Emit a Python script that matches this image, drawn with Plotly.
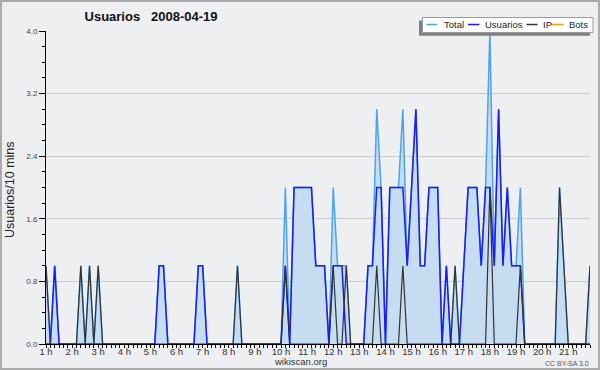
import plotly.graph_objects as go

# ---- data (10-minute bins starting at 1 h) ----
hours = [1 + i / 6 for i in range(126)]

usuarios = [
    0, 0, 1, 0, 0, 0, 0, 0, 0, 0, 0, 0,
    0, 0, 0, 0, 0, 0, 0, 0, 0, 0, 0, 0,
    0, 0, 1, 1, 0, 0, 0, 0, 0, 0, 0, 1,
    1, 0, 0, 0, 0, 0, 0, 0, 0, 0, 0, 0,
    0, 0, 0, 0, 0, 0, 0, 1, 0, 2, 2, 2,
    2, 2, 1, 1, 1, 0, 1, 1, 1, 0, 0, 0,
    0, 0, 1, 1, 2, 2, 0, 2, 2, 2, 2, 1,
    2, 3, 1, 1, 2, 2, 2, 0, 1, 0, 0, 0,
    1, 2, 2, 2, 1, 2, 2, 1, 3, 1, 2, 1,
    1, 1, 0, 0, 0, 0, 0, 0, 0, 0, 0, 0,
    0, 0, 0, 0, 0, 0,
]

ip = [
    1, 0, 0, 0, 0, 0, 0, 0, 1, 0, 1, 0,
    1, 0, 0, 0, 0, 0, 0, 0, 0, 0, 0, 0,
    0, 0, 0, 0, 0, 0, 0, 0, 0, 0, 0, 0,
    0, 0, 0, 0, 0, 0, 0, 0, 1, 0, 0, 0,
    0, 0, 0, 0, 0, 0, 0, 1, 0, 0, 0, 0,
    0, 0, 0, 0, 0, 0, 1, 0, 0, 1, 0, 0,
    0, 0, 0, 0, 1, 0, 0, 0, 0, 0, 1, 0,
    0, 0, 0, 0, 0, 0, 0, 0, 0, 0, 1, 0,
    0, 0, 0, 0, 0, 0, 2, 0, 0, 0, 0, 0,
    0, 1, 0, 0, 0, 0, 0, 0, 0, 0, 2, 1,
    0, 0, 0, 0, 0, 1,
]

total = [
    1, 0, 1, 0, 0, 0, 0, 0, 1, 0, 1, 0,
    1, 0, 0, 0, 0, 0, 0, 0, 0, 0, 0, 0,
    0, 0, 1, 1, 0, 0, 0, 0, 0, 0, 0, 1,
    1, 0, 0, 0, 0, 0, 0, 0, 1, 0, 0, 0,
    0, 0, 0, 0, 0, 0, 0, 2, 0, 2, 2, 2,
    2, 2, 1, 1, 1, 0, 2, 1, 1, 1, 0, 0,
    0, 0, 1, 1, 3, 2, 0, 2, 2, 2, 3, 1,
    2, 3, 1, 1, 2, 2, 2, 0, 1, 0, 1, 0,
    1, 2, 2, 2, 1, 2, 4, 1, 3, 1, 2, 1,
    1, 2, 0, 0, 0, 0, 0, 0, 0, 0, 2, 1,
    0, 0, 0, 0, 0, 1,
]

bots = [0] * 126

series_names = ["Total", "Usuarios", "IP", "Bots"]
series_colors = ["#4ea3ec", "#1a1aff", "#333333", "#ff9a1a"]
title_text = "Usuarios\u00a0\u00a0 2008-04-19"
y_title = "Usuarios/10 mins"

FONT = "Liberation Sans, Arial, sans-serif"
BG = "#eeeff1"

# pixel helpers (plot area: x 46..590, y 31..344)
L, T, R, B = 46, 31, 10, 26
PW, PH = 600 - L - R, 370 - T - B


def px(x):
    return (x - L) / PW


def py(y):
    return (370 - B - y) / PH


fig = go.Figure()

fig.add_trace(go.Scatter(x=hours, y=bots, mode="lines", name="Bots",
                         line=dict(color=series_colors[3], width=1.2), showlegend=False))
fig.add_trace(go.Scatter(x=hours, y=total, mode="lines", name="Total",
                         fill="tozeroy", fillcolor="#c6dcf0",
                         line=dict(color=series_colors[0], width=1.5), showlegend=False))
fig.add_trace(go.Scatter(x=hours, y=usuarios, mode="lines", name="Usuarios",
                         line=dict(color=series_colors[1], width=1.5), showlegend=False))
fig.add_trace(go.Scatter(x=hours, y=ip, mode="lines", name="IP",
                         line=dict(color=series_colors[2], width=1.2), showlegend=False))

shapes = []
annotations = []

# outer frame
shapes.append(dict(type="rect", xref="paper", yref="paper",
                   x0=px(1), x1=px(599), y0=py(369), y1=py(1),
                   line=dict(color="#ababab", width=2), layer="above"))

# manual legend: shadow, box, line samples, texts
shapes.append(dict(type="rect", xref="paper", yref="paper",
                   x0=px(419), x1=px(590), y0=py(35.7), y1=py(20.5),
                   fillcolor="#808080", line=dict(width=0), layer="above"))
shapes.append(dict(type="rect", xref="paper", yref="paper",
                   x0=px(422.5), x1=px(593), y0=py(32.5), y1=py(17.5),
                   fillcolor="#ffffff", line=dict(color="#9a9a9a", width=1), layer="above"))
leg_lines = [(426.5, 437), (468, 479.5), (526.5, 537.5), (551.5, 563.5)]
leg_text_x = [442.5, 484, 541.5, 567.5]
for name, col, (a, b), tx in zip(series_names, series_colors, leg_lines, leg_text_x):
    shapes.append(dict(type="line", xref="paper", yref="paper",
                       x0=px(a), x1=px(b), y0=py(24.5), y1=py(24.5),
                       line=dict(color=col, width=1.5), layer="above"))
    annotations.append(dict(text=name, xref="paper", yref="paper",
                            x=px(tx - 1), y=py(25), xanchor="left", yanchor="middle",
                            showarrow=False, font=dict(family=FONT, size=9.5, color="#222")))

annotations.append(dict(text=y_title, xref="paper", yref="paper", x=px(10), y=py(190),
                        textangle=-90, showarrow=False, xanchor="center", yanchor="middle",
                        font=dict(family=FONT, size=12.5, color="#222")))
annotations.append(dict(text="wikiscan.org", xref="paper", yref="paper", x=px(300), y=py(361.5),
                        showarrow=False, xanchor="center", yanchor="middle",
                        font=dict(family=FONT, size=9.5, color="#333")))
annotations.append(dict(text="CC BY-SA 3.0", xref="paper", yref="paper", x=px(591), y=py(363),
                        showarrow=False, xanchor="right", yanchor="middle",
                        font=dict(family=FONT, size=7, color="#555")))

fig.update_layout(
    width=600, height=370,
    margin=dict(l=L, r=R, t=T, b=B),
    paper_bgcolor=BG, plot_bgcolor=BG,
    showlegend=False,
    title=dict(text="<b>" + title_text + "</b>", xref="container", yref="container",
               x=151 / 600, y=1 - 16 / 370, xanchor="center", yanchor="middle",
               font=dict(family=FONT, size=13, color="#111")),
    shapes=shapes, annotations=annotations,
    xaxis=dict(range=[hours[0], hours[-1]], tick0=1, dtick=1, ticksuffix=" h",
               ticks="outside", ticklen=3, tickcolor="#000", showline=True,
               linecolor="#000", linewidth=1, showgrid=False, zeroline=False,
               layer="above traces", ticklabelstandoff=-4,
               tickfont=dict(family=FONT, size=9.5, color="#333"),
               minor=dict(dtick=1 / 6, tick0=1, ticks="outside", ticklen=3,
                          tickcolor="#000", showgrid=False)),
    yaxis=dict(range=[0, 4], tick0=0, dtick=0.8, tickformat=".1f",
               ticks="outside", ticklen=6, tickcolor="#000", showline=True,
               linecolor="#000", linewidth=1, showgrid=True, gridcolor="#cbcbcb",
               gridwidth=1, zeroline=False, layer="above traces",
               tickfont=dict(family=FONT, size=8, color="#444"),
               minor=dict(dtick=0.2, ticks="outside", ticklen=3, tickcolor="#000",
                          showgrid=False)),
)

fig.write_html("out.html")
